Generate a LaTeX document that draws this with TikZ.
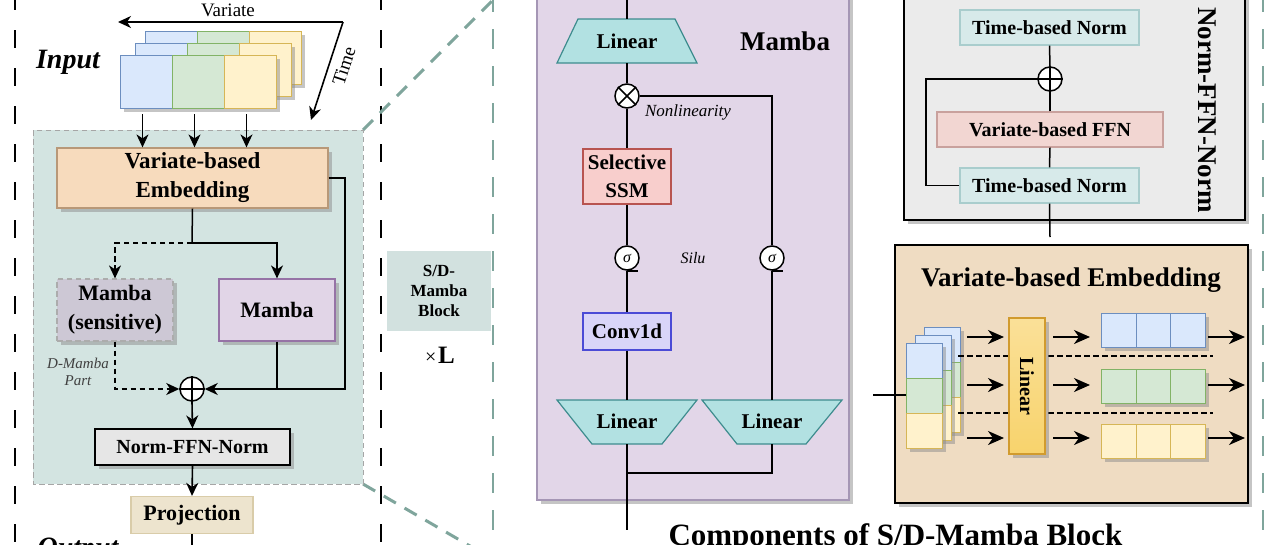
\documentclass[tikz,border=0pt]{standalone}
\usepackage{fontspec}
\setmainfont{Liberation Serif}
\usetikzlibrary{arrows.meta,shadows,calc}
\definecolor{cblue}{HTML}{DAE8FC}\definecolor{dblue}{HTML}{6C8EBF}
\definecolor{cgreen}{HTML}{D5E8D4}\definecolor{dgreen}{HTML}{82B366}
\definecolor{cyel}{HTML}{FFF2CC}\definecolor{dyel}{HTML}{D6B656}
\definecolor{blkfill}{HTML}{D3E4E1}
\definecolor{embfill}{HTML}{F7DBBD}\definecolor{embdraw}{HTML}{B89878}
\definecolor{msfill}{HTML}{CDC8D5}
\definecolor{mbfill}{HTML}{E1D5E7}\definecolor{mbdraw}{HTML}{9673A6}
\definecolor{nfnfill}{HTML}{E6E6E6}
\definecolor{projfill}{HTML}{EDE4CE}\definecolor{projdraw}{HTML}{D9CCA9}
\definecolor{sdfill}{HTML}{D2E1DF}
\definecolor{panelp}{HTML}{E2D6E8}\definecolor{paneld}{HTML}{A596B5}
\definecolor{linfill}{HTML}{B2E1E2}\definecolor{lindraw}{HTML}{3E8C8E}
\definecolor{ssmfill}{HTML}{F8CECC}\definecolor{ssmdraw}{HTML}{B85450}
\definecolor{convfill}{HTML}{D9D5F8}\definecolor{convdraw}{HTML}{4B4BD6}
\definecolor{graypanel}{HTML}{EBEBEB}
\definecolor{tnfill}{HTML}{D7EAEA}\definecolor{tndraw}{HTML}{A9CDCD}
\definecolor{ffnfill}{HTML}{F2D6D2}\definecolor{ffndraw}{HTML}{C9A19D}
\definecolor{vefill}{HTML}{EFDCC2}
\definecolor{goldf}{HTML}{F8D36C}\definecolor{goldd}{HTML}{D19B2E}
\definecolor{tealdash}{HTML}{7FA59C}
\newcommand\fsz[2]{\fontsize{#1}{#2}\selectfont}
\begin{document}
\begin{tikzpicture}[x=1pt,y=-1pt,
  ln/.style={line width=1.5pt},
  arr/.style={line width=1.6pt,-{Stealth[length=13pt,width=12pt,inset=4pt]}},
  dsh/.style={dash pattern=on 5.5pt off 3.5pt},
  bigarr/.style={line width=2pt,-{Stealth[length=16pt,width=14pt,inset=5pt]}},
  bx/.style={draw,line width=1.2pt,align=center,inner sep=0pt,font=\bfseries},
  shd/.style={drop shadow={shadow xshift=3.5pt,shadow yshift=-3.5pt,fill=black!45,opacity=0.5}},
  cell/.style={draw,line width=1pt,inner sep=0pt,anchor=north west,shd},
  opc/.style={circle,draw,fill=white,line width=1.5pt,minimum size=24pt,inner sep=0pt},
  sepblack/.style={line width=2.5pt,dash pattern=on 18pt off 20pt},
  septeal/.style={line width=2.5pt,tealdash,dash pattern=on 20pt off 17pt},
  diag/.style={line width=3pt,tealdash,dash pattern=on 14pt off 10pt},
  trap/.style={draw=lindraw,fill=linfill,line width=1.2pt}]
\useasboundingbox (0,0) rectangle (1280,544);
\fill[white] (0,0) rectangle (1280,544);

% ---------- separators ----------
\draw[sepblack] (15,-8) -- (15,560);
\draw[sepblack] (381,-8) -- (381,560);
\draw[septeal] (493,-8) -- (493,560);
\draw[septeal] (1263,-8) -- (1263,560);
\draw[diag] (363,130) -- (495,-2);
\draw[diag] (363,484) -- (520,575);

% ---------- left: input ----------
\node[font=\fsz{19}{22}] (vlab) at (228,10) {Variate};
\coordinate (vt) at (343,22);
\coordinate (vl) at (118,22);
\coordinate (tb) at (311,120);
\draw[arr] (vt) -- (vl);
\draw[arr] (vt) -- (tb);
\node[font=\fsz{19}{22},rotate=72] (tlab) at (344,66) {Time};
\node[font=\fsz{28}{30}\bfseries\itshape] (inlab) at (68,62) {Input};

\foreach \lx/\ly/\nm in {145/31/b,135/43/m,120/55/f}{
  \node[cell,fill=cblue,draw=dblue,minimum width=52pt,minimum height=53pt] (\nm1) at (\lx,\ly) {};
  \node[cell,fill=cgreen,draw=dgreen,minimum width=52pt,minimum height=53pt] (\nm2) at (\lx+52,\ly) {};
  \node[cell,fill=cyel,draw=dyel,minimum width=52pt,minimum height=53pt] (\nm3) at (\lx+104,\ly) {};
}

% ---------- left: S/D-Mamba block ----------
\draw[fill=blkfill,draw=gray!70,line width=1pt,dsh] (33,130) rectangle (363,484);
\node[bx,fill=embfill,draw=embdraw,minimum width=271pt,minimum height=60pt,font=\fsz{23}{29}\bfseries,shd] (emb) at (192.5,178) {Variate-based\\Embedding};
\foreach \i in {1,2,3}{
  \coordinate (ia\i) at ($(f\i.south)+(-4,5)$);
  \draw[arr] (ia\i) -- (ia\i |- emb.north);
}
\node[bx,fill=msfill,draw=gray!65,dsh,minimum width=116pt,minimum height=62pt,font=\fsz{22}{29}\bfseries,shd] (ms) at (115,310) {Mamba\\(sensitive)};
\node[bx,fill=mbfill,draw=mbdraw,minimum width=116pt,minimum height=62pt,font=\fsz{22}{26}\bfseries,shd] (mb) at (277,310) {Mamba};
\node[opc] (op1) at (192,389) {};
\draw[line width=1.5pt] (op1.north) -- (op1.south) (op1.east) -- (op1.west);
\coordinate (sp) at (192,243);
\coordinate (rc) at (345,389);
\draw[ln] (emb.south) -- (sp);
\draw[arr] (sp) -| (mb.north);
\draw[arr,dsh] (sp) -| (ms.north);
\draw[arr] (emb.east) -| (rc) -- (op1.east);
\draw[ln] (mb.south) -- (mb.south |- op1.center);
\draw[arr,dsh] (ms.south) |- (op1.west);
\node[font=\fsz{15}{17}\itshape,text=black!75,align=center] (dmp) at (78,372) {D-Mamba\\Part};
\node[bx,fill=nfnfill,draw=black,minimum width=195pt,minimum height=36pt,font=\fsz{20}{22}\bfseries,shd] (nfn1) at (192.5,447) {Norm-FFN-Norm};
\draw[arr] (op1.south) -- (nfn1.north);
\node[bx,fill=projfill,draw=projdraw,minimum width=122pt,minimum height=37pt,font=\fsz{22}{24}\bfseries] (proj) at (192,515) {Projection};
\draw[arr] (nfn1.south) -- (proj.north);
\coordinate (pend) at (192,550);
\draw[ln] (proj.south) -- (pend);
\node[font=\fsz{28}{30}\bfseries\itshape,anchor=base] (outlab) at (78,556) {Output};

% ---------- middle ----------
\node[fill=sdfill,minimum width=104pt,minimum height=80pt,inner sep=0pt,align=center,font=\fsz{17}{20}\bfseries] (sdb) at (439,291) {S/D-\\Mamba\\Block};
\node[inner sep=0pt] (xl) at (440,355) {{\fsz{20}{22}×}\,{\fsz{25}{26}\bfseries L}};

% ---------- Mamba panel ----------
\draw[fill=panelp,draw=paneld,line width=1.2pt,shd] (537,-10) rectangle (849,500);
\coordinate (mtop) at (627,-5);
\coordinate (l1t) at (627,19);
\coordinate (l1b) at (627,63);
\draw[trap] (578,19) -- (675,19) -- (697,63) -- (557,63) -- cycle;
\node[font=\fsz{21}{23}\bfseries] (lin1) at (627,41) {Linear};
\node[font=\fsz{27}{29}\bfseries] (mtitle) at (785,41) {Mamba};
\node[opc] (ot) at (627,96) {};
\draw[line width=1.5pt] (ot.north east) -- (ot.south west) (ot.north west) -- (ot.south east);
\node[bx,fill=ssmfill,draw=ssmdraw,minimum width=88pt,minimum height=55pt,font=\fsz{21}{28}\bfseries] (ssm) at (627,176.5) {Selective\\SSM};
\node[opc,font=\fsz{16}{18}\itshape] (s1) at (627,258) {σ};
\node[opc,font=\fsz{16}{18}\itshape] (s2) at (772,258) {σ};
\draw[ln] (s1.south) -- ++(11,0);
\draw[ln] (s2.south) -- ++(11,0);
\node[bx,fill=convfill,draw=convdraw,minimum width=88pt,minimum height=37pt,font=\fsz{21}{23}\bfseries] (conv) at (627,331.5) {Conv1d};
\draw[trap] (557,400) -- (697,400) -- (662,444) -- (592,444) -- cycle;
\node[font=\fsz{21}{23}\bfseries] (lin2) at (627,421) {Linear};
\draw[trap] (702,400) -- (842,400) -- (806,444) -- (737,444) -- cycle;
\node[font=\fsz{21}{23}\bfseries] (lin3) at (772,421) {Linear};
\coordinate (l2t) at (627,400);
\coordinate (l2b) at (627,444);
\coordinate (l3t) at (772,400);
\coordinate (l3b) at (772,444);
\coordinate (jn) at (627,473);
\coordinate (mbot) at (627,530);
\draw[ln] (mtop) -- (l1t);
\draw[ln] (l1b) -- (ot.north);
\draw[ln] (ot.east) -| (s2.north);
\draw[ln] (ot.south) -- (ssm.north);
\draw[ln] (ssm.south) -- (s1.north);
\draw[ln] (s1.south) -- (conv.north);
\draw[ln] (conv.south) -- (l2t);
\draw[ln] (s2.south) -- (l3t);
\draw[ln] (l2b) -- (mbot);
\draw[ln] (l3b) |- (jn);
\node[font=\fsz{17}{19}\itshape] (nonl) at (688,112) {Nonlinearity};
\node[font=\fsz{16}{18}\itshape] (silu) at (693,258) {Silu};

% ---------- Norm-FFN-Norm panel ----------
\draw[fill=graypanel,draw=black,line width=1.5pt,shd] (904,-10) rectangle (1245,220);
\node[bx,fill=tnfill,draw=tndraw,minimum width=179pt,minimum height=35pt,font=\fsz{20}{22}\bfseries] (tn1) at (1049.5,27.5) {Time-based Norm};
\node[opc] (op2) at (1050,79) {};
\draw[line width=1.5pt] (op2.north) -- (op2.south) (op2.east) -- (op2.west);
\node[bx,fill=ffnfill,draw=ffndraw,minimum width=226pt,minimum height=35pt,font=\fsz{20}{22}\bfseries] (ffn) at (1050,129.5) {Variate-based FFN};
\node[bx,fill=tnfill,draw=tndraw,minimum width=179pt,minimum height=35pt,font=\fsz{20}{22}\bfseries] (tn2) at (1049.5,185.5) {Time-based Norm};
\node[font=\fsz{27}{29}\bfseries,rotate=-90] (nfnt) at (1207,110) {Norm-FFN-Norm};
\coordinate (lpc) at (926,79);
\coordinate (nb) at (1050,237);
\draw[ln] (tn2.north) -- (ffn.south);
\draw[ln] (ffn.north) -- (op2.south);
\draw[ln] (op2.north) -- (tn1.south);
\draw[ln] (tn2.west) -| (lpc) -- (op2.west);
\draw[ln] (tn2.south) -- (nb);

% ---------- Variate-based Embedding panel ----------
\draw[fill=vefill,draw=black,line width=1.5pt,shd] (895,245) rectangle (1248,503);
\node[font=\fsz{27}{29}\bfseries] (vet) at (1071,280) {Variate-based Embedding};
\foreach \lx/\ly/\nm in {924/327/vb,915/335/vm,906/343/vf}{
  \node[cell,fill=cblue,draw=dblue,minimum width=36pt,minimum height=35pt] (\nm1) at (\lx,\ly) {};
  \node[cell,fill=cgreen,draw=dgreen,minimum width=36pt,minimum height=35pt] (\nm2) at (\lx,\ly+35) {};
  \node[cell,fill=cyel,draw=dyel,minimum width=36pt,minimum height=35pt] (\nm3) at (\lx,\ly+70) {};
}
\coordinate (vin) at (873,395);
\draw[ln] (vin) -- (vin -| vf2.west);
\draw[line width=1.5pt,dsh] (958,356) -- (1213,356);
\draw[line width=1.5pt,dsh] (958,413) -- (1213,413);
\node[draw=goldd,top color=goldf!70!white,bottom color=goldf,line width=1.2pt,minimum width=36pt,minimum height=136pt,inner sep=0pt,shd] (vlin) at (1027,386) {};
\node[font=\fsz{20}{22}\bfseries,rotate=-90] (vlint) at (vlin.center) {Linear};
\foreach \r/\ty/\ay/\cf/\cd in {1/313/337/cblue/dblue,2/369/385/cgreen/dgreen,3/424/438/cyel/dyel}{
  \foreach \k in {0,1,2}{
    \node[cell,fill=\cf,draw=\cd,minimum width=34.7pt,minimum height=34pt] (o\r\k) at (1101+34.7*\k,\ty) {};
  }
  \coordinate (a\r s) at (967,\ay); \coordinate (a\r e) at (1004,\ay);
  \coordinate (b\r s) at (1053,\ay); \coordinate (b\r e) at (1090,\ay);
  \coordinate (c\r s) at (1208,\ay); \coordinate (c\r e) at (1245,\ay);
  \draw[bigarr] (a\r s) -- (a\r e);
  \draw[bigarr] (b\r s) -- (b\r e);
  \draw[bigarr] (c\r s) -- (c\r e);
}

% ---------- caption ----------
\node[font=\fsz{31}{33}\bfseries,anchor=base west] (cap) at (665,545) {Components of S/D-Mamba Block};
\end{tikzpicture}
\end{document}
